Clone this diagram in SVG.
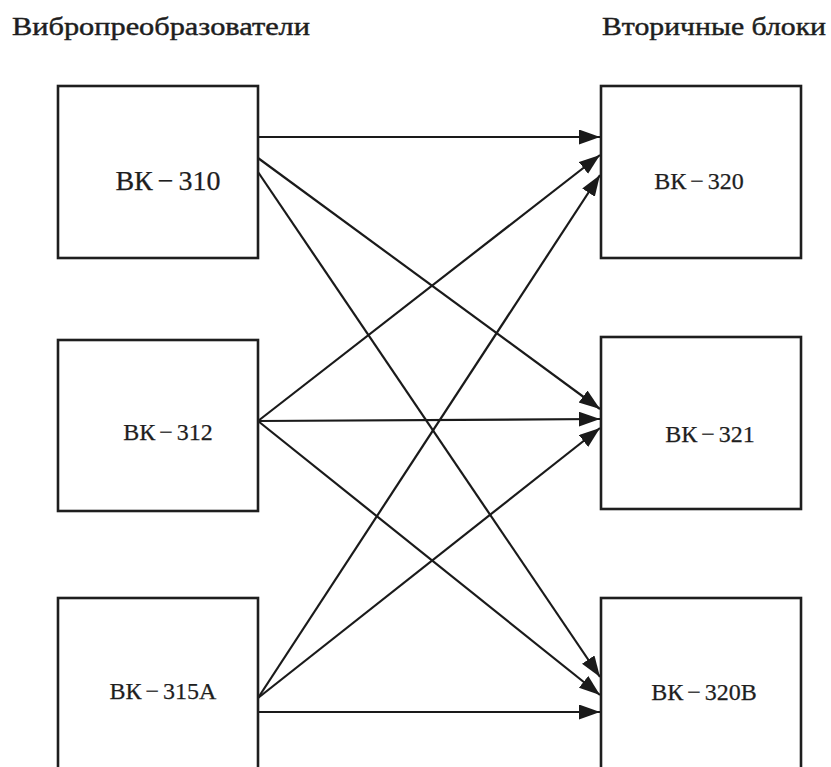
<svg xmlns="http://www.w3.org/2000/svg" width="831" height="767" viewBox="0 0 831 767">
<style>
.box{fill:#fff;stroke:#1e1e1e;stroke-width:2.6}
.lbl{font-family:"Liberation Serif","DejaVu Serif",serif;fill:#1e1e1e;stroke:#1e1e1e;stroke-width:0.25;text-anchor:middle;word-spacing:-2px}
.title{font-family:"Liberation Serif","DejaVu Serif",serif;fill:#1e1e1e;stroke:#1e1e1e;stroke-width:0.45;font-size:26px}
.conn{stroke:#1a1a1a;stroke-width:2.2;fill:none;marker-end:url(#arr)}
</style>
<defs>
<marker id="arr" markerUnits="userSpaceOnUse" markerWidth="23" markerHeight="16" refX="21" refY="7.5" orient="auto">
<path d="M0,0 L21,7.5 L0,15 z" fill="#1a1a1a"/>
</marker>
</defs>
<rect width="831" height="767" fill="#fff"/>
<text class="title" x="12" y="35" textLength="298" lengthAdjust="spacingAndGlyphs">Вибропреобразователи</text>
<text class="title" x="602" y="35" textLength="224" lengthAdjust="spacingAndGlyphs">Вторичные блоки</text>
<g id="connectors">
<line class="conn" x1="258" y1="137" x2="600" y2="137"/>
<line class="conn" x1="258" y1="158" x2="600" y2="409"/>
<line class="conn" x1="258" y1="172" x2="600" y2="677"/>
<line class="conn" x1="258" y1="421" x2="600" y2="155"/>
<line class="conn" x1="258" y1="421" x2="600" y2="419"/>
<line class="conn" x1="258" y1="421" x2="600" y2="695"/>
<line class="conn" x1="258" y1="698" x2="600" y2="175"/>
<line class="conn" x1="258" y1="698" x2="600" y2="428"/>
<line class="conn" x1="258" y1="712" x2="600" y2="712"/>
</g>
<g id="vk310">
<rect class="box" x="58" y="86" width="200" height="172"/>
<text class="lbl" x="168" y="190" font-size="28">ВК − 310</text>
</g>
<g id="vk312">
<rect class="box" x="58" y="340" width="200" height="171"/>
<text class="lbl" x="168" y="440" font-size="24">ВК − 312</text>
</g>
<g id="vk315a">
<rect class="box" x="58" y="598" width="200" height="200"/>
<text class="lbl" x="163" y="699" font-size="24">ВК − 315А</text>
</g>
<g id="vk320">
<rect class="box" x="601" y="86" width="200" height="172"/>
<text class="lbl" x="699" y="189" font-size="24">ВК − 320</text>
</g>
<g id="vk321">
<rect class="box" x="601" y="337" width="200" height="172"/>
<text class="lbl" x="710" y="442" font-size="24">ВК − 321</text>
</g>
<g id="vk320b">
<rect class="box" x="601" y="598" width="200" height="200"/>
<text class="lbl" x="704" y="700" font-size="24">ВК − 320В</text>
</g>
</svg>
